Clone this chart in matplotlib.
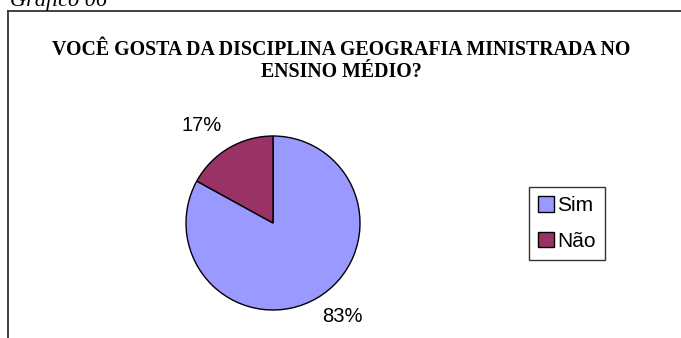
import matplotlib
matplotlib.use('Agg')
import matplotlib.pyplot as plt
from matplotlib.patches import Patch
from matplotlib.lines import Line2D

categories = ['Sim', 'Não']
values = [83, 17]
colors = ['#9999FF', '#993366']
title = 'VOCÊ GOSTA DA DISCIPLINA GEOGRAFIA MINISTRADA NO\nENSINO MÉDIO?'
caption = 'Gráfico 06'

W, H = 681, 338
fig = plt.figure(figsize=(W / 100, H / 100), dpi=100)

# frame around the chart (left and top edges visible)
frame = '#333333'
fig.add_artist(Line2D([8 / W, 8 / W], [0, 1 - 11 / H], color=frame, lw=1.3))
fig.add_artist(Line2D([8 / W, 1], [1 - 11 / H, 1 - 11 / H], color=frame, lw=1.3))

# caption sits above the crop in the source, only its lower part shows
fig.text(10 / W, 1 - 6 / H, caption, family='Liberation Serif', style='italic',
         fontsize=16, va='baseline', ha='left')

fig.text(341 / W, 1 - 61 / H, title, family='Liberation Serif', weight='bold',
         fontsize=14.3, ha='center', va='center', linespacing=1.1)

# pie axes: centre (273, 223) px, radius 87 px
cx, cy, r = 273, 223, 87
half = 160
ax = fig.add_axes([(cx - half) / W, (H - cy - half) / H, 2 * half / W, 2 * half / H])
wedges, _ = ax.pie(values, colors=colors, startangle=90, counterclock=False,
                   wedgeprops=dict(edgecolor='black', linewidth=1.0))
lim = half / r
ax.set_xlim(-lim, lim)
ax.set_ylim(-lim, lim)
ax.set_aspect('equal')
ax.axis('off')

label_pos = [(0.80, -1.08), (-0.82, 1.12)]
for (x, y), v in zip(label_pos, values):
    ax.text(x, y, f'{v}%', family='Liberation Sans', fontsize=14.5,
            ha='center', va='center')

handles = [Patch(facecolor=c, edgecolor='black', linewidth=1.0) for c in colors]
leg = fig.legend(handles, categories, loc='upper left',
                 bbox_to_anchor=(529 / W, 1 - 187 / H),
                 prop=dict(family='Liberation Sans', size=15),
                 frameon=True, fancybox=False, edgecolor='black',
                 handlelength=0.75, handleheight=0.75, handletextpad=0.15,
                 borderpad=0.45, labelspacing=0.8, borderaxespad=0)
leg.get_frame().set_linewidth(1.0)

fig.savefig('out.png', dpi=100)
